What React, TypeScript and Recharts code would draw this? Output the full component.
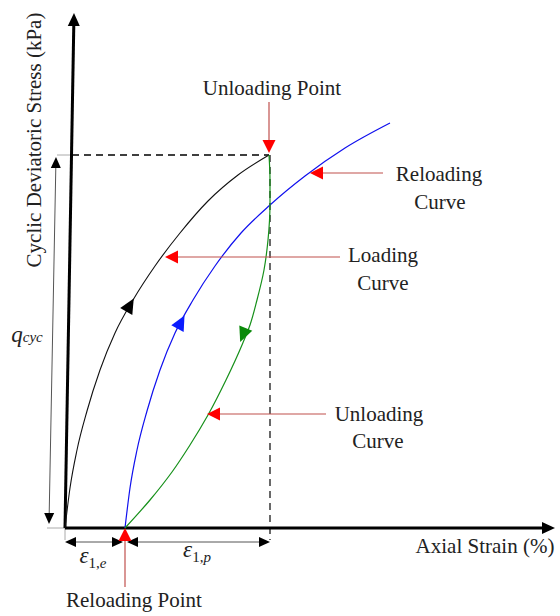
import React from 'react';
import { ComposedChart, Line, XAxis, YAxis, ReferenceLine, ReferenceDot } from 'recharts';

// schematic units: x = axial strain, y = cyclic deviatoric stress, origin at axes crossing
const loadingCurve = [
  [0, 0], [5, 40], [12, 78], [22, 117], [35, 158], [50, 195], [68, 228],
  [90, 262], [115, 295], [143, 327], [173, 353], [204, 373],
];
const reloadingCurve = [
  [60, 0], [65, 40], [72, 78], [82, 117], [95, 158], [110, 195], [128, 228],
  [150, 262], [176, 295], [205, 323], [240, 352], [280, 380], [325, 405],
];
const unloadingCurve = [
  [204, 373], [205, 348], [205, 325], [203, 288], [199, 258], [192, 228], [185, 203],
  [177, 183], [161, 148], [143, 113], [125, 83], [107, 56], [85, 28], [60, 0],
];

// direction markers on the curves: [x, y, angle in degrees]
const loadingMarker = [65, 223, -60];
const reloadingMarker = [116, 206, -62];
const unloadingMarker = [178, 193, 112];

// red callouts: [fromX, fromY, toX, toY]
const callouts = [
  [204, 426, 204, 375],
  [318, 355, 245, 355],
  [275, 271, 100, 271],
  [261, 114, 142, 114],
  [60, -59, 60, 0],
];
const calloutLabels: [string, number, number][] = [
  ['Unloading Point', 207, 433],
  ['Reloading', 374, 347],
  ['Curve', 375, 319],
  ['Loading', 318, 266],
  ['Curve', 318, 238],
  ['Unloading', 314, 107],
  ['Curve', 313, 80],
  ['Axial Strain (%)', 420, -25],
  ['Reloading Point', 69, -79],
];

const unloadPt = [204, 373];
const FONT = "'Liberation Serif', 'Times New Roman', serif";
const TEXT = '#222';

const toPts = (arr: number[][]) => arr.map(([x, y]) => ({ x, y }));

const arrowShape = (o: { color: string; head: string; width: number; len: number; half: number; both?: boolean }) =>
  (p: any) => {
    const { x1, y1, x2, y2 } = p;
    const d = Math.hypot(x2 - x1, y2 - y1) || 1;
    const ux = (x2 - x1) / d;
    const uy = (y2 - y1) / d;
    const tri = (tx: number, ty: number, sx: number, sy: number) => {
      const bx = tx - sx * o.len;
      const by = ty - sy * o.len;
      return `${tx},${ty} ${bx - sy * o.half},${by + sx * o.half} ${bx + sy * o.half},${by - sx * o.half}`;
    };
    const sx1 = o.both ? x1 + ux * o.len * 0.8 : x1;
    const sy1 = o.both ? y1 + uy * o.len * 0.8 : y1;
    return (
      <g>
        <line x1={sx1} y1={sy1} x2={x2 - ux * o.len * 0.8} y2={y2 - uy * o.len * 0.8} stroke={o.color} strokeWidth={o.width} />
        <polygon points={tri(x2, y2, ux, uy)} fill={o.head} />
        {o.both && <polygon points={tri(x1, y1, -ux, -uy)} fill={o.head} />}
      </g>
    );
  };

const markerShape = (angle: number, color: string) => (p: any) => {
  const a = (angle * Math.PI) / 180;
  const ux = Math.cos(a);
  const uy = Math.sin(a);
  const len = 15;
  const half = 7;
  const tx = p.cx + (ux * len) / 2;
  const ty = p.cy + (uy * len) / 2;
  const bx = p.cx - (ux * len) / 2;
  const by = p.cy - (uy * len) / 2;
  return (
    <polygon
      points={`${tx},${ty} ${bx - uy * half},${by + ux * half} ${bx + uy * half},${by - ux * half}`}
      fill={color}
    />
  );
};

const textShape = (label: string) => (p: any) => (
  <text x={p.cx} y={p.cy} textAnchor="middle" fontFamily={FONT} fontSize={21} fill={TEXT}>
    {label}
  </text>
);

const mathShape = (main: string, sub: string[]) => (p: any) => (
  <text x={p.cx} y={p.cy} textAnchor="middle" fontFamily={FONT} fontSize={23} fill={TEXT}>
    <tspan fontStyle="italic">{main}</tspan>
    <tspan fontSize={15} dy={5}>{sub[0]}</tspan>
    <tspan fontSize={15} fontStyle="italic">{sub[1]}</tspan>
  </text>
);

const yTitleShape = (p: any) => (
  <text
    x={p.cx}
    y={p.cy}
    transform={`rotate(-90 ${p.cx} ${p.cy})`}
    textAnchor="middle"
    dominantBaseline="central"
    fontFamily={FONT}
    fontSize={21}
    fill={TEXT}
  >
    Cyclic Deviatoric Stress (kPa)
  </text>
);

const seg = (a: number[]) => [{ x: a[0], y: a[1] }, { x: a[2], y: a[3] }];

const redArrow = arrowShape({ color: '#c0504d', head: '#ff0000', width: 1.2, len: 13, half: 6.5 });
const axisArrow = arrowShape({ color: '#000', head: '#000', width: 3, len: 13, half: 6 });
const dimArrow = arrowShape({ color: '#555', head: '#000', width: 1, len: 11, half: 5, both: true });

export default function App() {
  return (
    <div style={{ position: 'absolute', left: 0, top: 0, background: '#fff' }}>
      <ComposedChart width={560} height={616} margin={{ top: 0, right: 0, bottom: 0, left: 0 }}>
        <XAxis type="number" dataKey="x" domain={[-65, 495]} allowDataOverflow hide />
        <YAxis type="number" domain={[-88, 528]} allowDataOverflow hide />

        {/* guides */}
        <ReferenceLine segment={seg([7, unloadPt[1], unloadPt[0], unloadPt[1]])} stroke="#000" strokeWidth={1.6} strokeDasharray="7 5" />
        <ReferenceLine segment={seg([205, unloadPt[1], 205, -12])} stroke="#444" strokeWidth={1.6} strokeDasharray="7 5" />
        <ReferenceLine segment={seg([-8, 373, 7, 373])} stroke="#aaa" strokeWidth={1} />
        <ReferenceLine segment={seg([-18, 0, 0, 0])} stroke="#aaa" strokeWidth={1} />
        <ReferenceLine segment={seg([0, 0, 0, -12])} stroke="#aaa" strokeWidth={1} />

        {/* axes */}
        <ReferenceLine segment={seg([0, 0, 9, 515])} shape={axisArrow} />
        <ReferenceLine segment={seg([0, 0, 490, 0])} shape={axisArrow} />

        {/* dimensions */}
        <ReferenceLine segment={seg([-9, 371, -16, 4])} shape={dimArrow} />
        <ReferenceLine segment={seg([0, -14, 58, -14])} shape={dimArrow} />
        <ReferenceLine segment={seg([62, -14, 205, -14])} shape={dimArrow} />

        <Line data={toPts(loadingCurve)} dataKey="y" type="monotoneX" stroke="#111" strokeWidth={1.1} dot={false} activeDot={false} isAnimationActive={false} />
        <Line data={toPts(reloadingCurve)} dataKey="y" type="monotoneX" stroke="#1010ee" strokeWidth={1.2} dot={false} activeDot={false} isAnimationActive={false} />
        <Line data={toPts(unloadingCurve)} dataKey="y" type="monotoneY" stroke="#16901a" strokeWidth={1.2} dot={false} activeDot={false} isAnimationActive={false} />

        <ReferenceDot x={loadingMarker[0]} y={loadingMarker[1]} r={0} shape={markerShape(loadingMarker[2], '#000')} />
        <ReferenceDot x={reloadingMarker[0]} y={reloadingMarker[1]} r={0} shape={markerShape(reloadingMarker[2], '#0a1cff')} />
        <ReferenceDot x={unloadingMarker[0]} y={unloadingMarker[1]} r={0} shape={markerShape(unloadingMarker[2], '#0a8a0a')} />

        {callouts.map((c, i) => (
          <ReferenceLine key={`c${i}`} segment={seg(c)} shape={redArrow} />
        ))}
        {calloutLabels.map(([t, x, y], i) => (
          <ReferenceDot key={`t${i}`} x={x} y={y} r={0} shape={textShape(t)} />
        ))}

        <ReferenceDot x={-31} y={388} r={0} shape={yTitleShape} />
        <ReferenceDot x={-38} y={186} r={0} shape={mathShape('q', ['', 'cyc'])} />
        <ReferenceDot x={28} y={-35} r={0} shape={mathShape('ε', ['1,', 'e'])} />
        <ReferenceDot x={132} y={-29} r={0} shape={mathShape('ε', ['1,', 'p'])} />
      </ComposedChart>
    </div>
  );
}
